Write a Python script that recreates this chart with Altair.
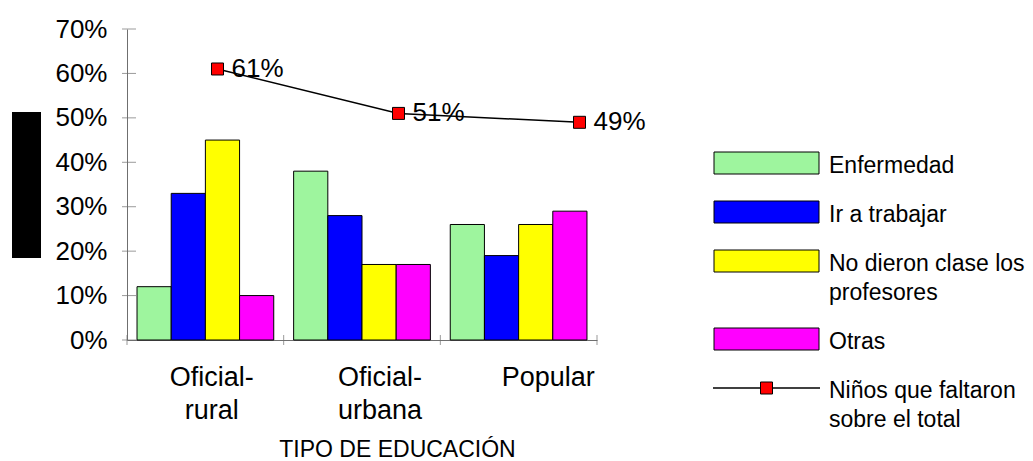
import altair as alt
import pandas as pd

FONT = "Liberation Sans"
AXIS = "#6f6f6f"

# ---------------- data ----------------
categories = ["Oficial-\nrural", "Oficial-\nurbana", "Popular"]
series = ["Enfermedad", "Ir a trabajar", "No dieron clase los profesores", "Otras"]
enfermedad = [12, 38, 26]
ir_a_trabajar = [33, 28, 19]
no_dieron_clase = [45, 17, 26]
otras = [10, 17, 29]
faltaron = [61, 51, 49]
bar_colors = ["#9ef59e", "#0000ff", "#ffff00", "#ff00ff"]
y_ticks = [0, 10, 20, 30, 40, 50, 60, 70]
x_edges = [0, 1, 2, 3]
legend_labels = ["Enfermedad", "Ir a trabajar", "No dieron clase los\nprofesores",
                 "Otras", "Niños que faltaron\nsobre el total"]
legend_kinds = ["bar", "bar", "bar", "bar", "line"]

rows = []
for s, vals in zip(series, [enfermedad, ir_a_trabajar, no_dieron_clase, otras]):
    for c, v in zip(categories, vals):
        rows.append({"cat": c, "series": s, "value": v})
bar_df = pd.DataFrame(rows)
line_df = pd.DataFrame({"cat": categories, "total": faltaron})
ytick_df = pd.DataFrame({"v": y_ticks})
xedge_df = pd.DataFrame({"e": x_edges})
leg_df = pd.DataFrame({"label": legend_labels, "kind": legend_kinds})

W, H = 470, 311
YS = alt.Scale(domain=[0, 70], nice=False, zero=True)
Y_AXIS = alt.Axis(values=y_ticks, labelExpr="datum.value + '%'", ticks=False, tickSize=0,
                  grid=False, domainColor=AXIS, domainWidth=1, labelFontSize=26,
                  labelFont=FONT, labelColor="black", labelPadding=20, title=None)

bars = alt.Chart(bar_df).mark_bar(stroke="black", strokeWidth=1).encode(
    x=alt.X("cat:N", sort=categories,
            scale=alt.Scale(paddingInner=0.127, paddingOuter=0.064),
            axis=alt.Axis(labels=False, ticks=False, tickSize=0, title=None,
                          domainColor=AXIS, domainWidth=1)),
    xOffset=alt.XOffset("series:N", sort=series,
                        scale=alt.Scale(paddingInner=0, paddingOuter=0)),
    y=alt.Y("value:Q", scale=YS, axis=Y_AXIS),
    color=alt.Color("series:N", sort=series,
                    scale=alt.Scale(domain=series, range=bar_colors), legend=None),
)

ytk = alt.Chart(ytick_df).mark_tick(color=AXIS, size=14, thickness=1, orient="horizontal").encode(
    y=alt.Y("v:Q", scale=YS, axis=None),
    x=alt.value(2),
)

xtk = alt.Chart(xedge_df).mark_tick(color=AXIS, size=10, thickness=1, orient="vertical").encode(
    x=alt.X("e:Q", scale=alt.Scale(domain=[0, 3], nice=False, zero=False), axis=None),
    y=alt.YDatum(0, scale=YS, axis=None),
)

LX = alt.X("cat:N", sort=categories,
           scale=alt.Scale(type="point", range=[0, 543], padding=0.5), axis=None)

line = alt.Chart(line_df).mark_line(color="black", strokeWidth=1.5).encode(
    x=LX, y=alt.Y("total:Q", scale=YS, axis=None))

pts = alt.Chart(line_df).mark_point(shape="square", filled=True, color="#ff0000",
                                    stroke="black", strokeWidth=1, size=144,
                                    opacity=1).encode(
    x=LX, y=alt.Y("total:Q", scale=YS, axis=None))

txt = alt.Chart(line_df).transform_calculate(lbl="datum.total + '%'").mark_text(
    align="left", baseline="middle", dx=14, fontSize=26, font=FONT, color="black").encode(
    x=LX, y=alt.Y("total:Q", scale=YS, axis=None), text="lbl:N")

labs = alt.Chart(line_df).mark_point(opacity=0).encode(
    x=alt.X("cat:N", sort=categories,
            scale=alt.Scale(type="point", range=[0, 505], padding=0.5),
            axis=alt.Axis(orient="bottom", domain=False, ticks=False, tickSize=0,
                          labelExpr="split(datum.label, '\\n')", labelFontSize=27,
                          labelFont=FONT, labelColor="black", labelPadding=24,
                          labelBaseline="top", labelLineHeight=33, labelAngle=0,
                          labelOverlap=False, labelFlush=False,
                          title="TIPO DE EDUCACIÓN", titleFont=FONT, titleFontSize=23,
                          titleFontWeight="normal", titleColor="black",
                          titleX=270, titleY=116, titleBaseline="alphabetic")),
    y=alt.YDatum(0, scale=YS, axis=None),
)

blk = alt.Chart(pd.DataFrame({"a": [0]})).mark_rect(color="black").encode(
    x=alt.value(-115), x2=alt.value(-86), y=alt.value(83), y2=alt.value(229))

# ---------------- legend ----------------
LS = alt.Scale(domain=[0, H], reverse=True, nice=False, zero=False)
lbase = alt.Chart(leg_df).transform_calculate(
    lines="length(split(datum.label, '\\n'))"
).transform_window(
    i="row_number()", cum="sum(lines)", frame=[None, 0]
).transform_calculate(
    pos="134 + 20*(datum.i-1) + 29*(datum.cum - datum.lines)",
    y1="datum.pos - 11", y2="datum.pos + 11",
)

lrect = lbase.transform_filter("datum.kind == 'bar'").mark_rect(
    stroke="black", strokeWidth=1).encode(
    x=alt.value(587), x2=alt.value(692),
    y=alt.Y("y1:Q", scale=LS, axis=None), y2="y2:Q",
    fill=alt.Fill("label:N", scale=alt.Scale(domain=legend_labels[:4], range=bar_colors),
                  legend=None),
)
lrule = lbase.transform_filter("datum.kind == 'line'").mark_rule(
    color="black", strokeWidth=1.5).encode(
    x=alt.value(586), x2=alt.value(693), y=alt.Y("pos:Q", scale=LS, axis=None))
lpt = lbase.transform_filter("datum.kind == 'line'").mark_point(
    shape="square", filled=True, color="#ff0000", stroke="black", strokeWidth=1,
    size=144, opacity=1).encode(
    x=alt.value(639.5), y=alt.Y("pos:Q", scale=LS, axis=None))
ltxt = lbase.mark_text(align="left", baseline="top", dy=-8, fontSize=23, font=FONT,
                       color="black", lineBreak="\n", lineHeight=29).encode(
    x=alt.value(702), y=alt.Y("pos:Q", scale=LS, axis=None), text="label:N")

chart = alt.layer(
    bars, ytk, xtk, line, pts, txt, labs, blk, lrect, lrule, lpt, ltxt
).resolve_scale(
    x="independent", y="independent"
).properties(
    width=W, height=H,
    autosize=alt.AutoSizeParams(type="none"),
    padding={"left": 119, "top": 21, "right": 428, "bottom": 123},
).configure(font=FONT).configure_view(stroke=None)

chart.save("out.html", embed_options={"renderer": "svg", "actions": False})
